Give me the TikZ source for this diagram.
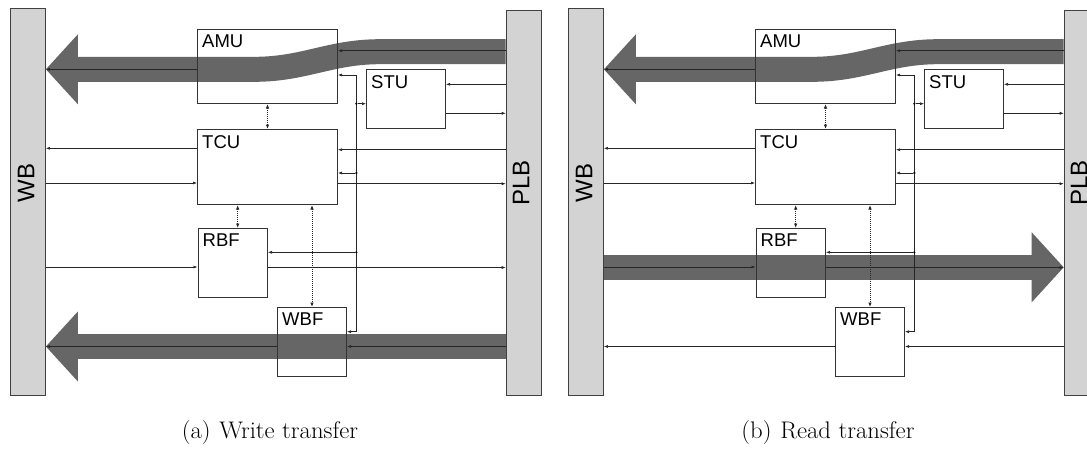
\documentclass[tikz,border=0pt]{standalone}
\usepackage{fontspec}
\newfontfamily\arialfont{Liberation Sans}
\usetikzlibrary{arrows.meta, backgrounds}

\definecolor{busgray}{RGB}{211,211,211}
\definecolor{flowgray}{RGB}{102,102,102}

\begin{document}
\begin{tikzpicture}[x=1pt, y=-1pt,
    bus/.style={draw=black!75, fill=busgray, line width=0.9pt, anchor=north west, inner sep=0pt},
    buslabel/.style={rotate=90, inner sep=0pt, font=\arialfont\fontsize{24}{26}\selectfont},
    blk/.style={draw=black!80, line width=1pt, anchor=north west, inner sep=0pt},
    blklabel/.style={anchor=north west, inner sep=0pt, font=\arialfont\fontsize{18.5}{20}\selectfont},
    sig/.style={draw=black!85, line width=0.6pt, -{Latex[length=4pt,width=3pt]}},
    ctl/.style={draw=black!85, line width=1pt, densely dotted, {Latex[length=4.5pt,width=3.5pt]}-{Latex[length=4.5pt,width=3.5pt]}},
    tap/.style={circle, fill=black, inner sep=0pt, minimum size=2.4pt},
    flow/.style={draw=flowgray, line width=25pt, -{Triangle[length=32pt,width=70pt,line width=0pt]}},
    caption/.style={inner sep=0pt, xscale=1.03, transform shape, font=\fontsize{24}{28}\selectfont},
  ]
  \useasboundingbox (0,0) rectangle (1087,453);
  \clip (0,0) rectangle (1087,453);

  % two panels, same blocks, shifted
  \foreach \p/\dx/\cap in {a/0/{(a)\hspace{0.35em}Write transfer}, b/558/{(b)\hspace{0.35em}Read transfer}} {
    \begin{scope}[xshift=\dx pt]
      % buses
      \node[bus, minimum width=35pt, minimum height=387pt] (wb-\p) at (10,8) {};
      \node[bus, minimum width=35pt, minimum height=385pt] (plb-\p) at (505.7,10) {};
      \node[buslabel] (wb-\p-t) at (26,183) {WB};
      \node[buslabel] (plb-\p-t) at (521,183) {PLB};

      % blocks
      \node[blk, minimum width=140pt, minimum height=74pt] (amu-\p) at (197,29) {};
      \node[blk, minimum width=79pt, minimum height=59pt] (stu-\p) at (366,69) {};
      \node[blk, minimum width=140pt, minimum height=75pt] (tcu-\p) at (197,129) {};
      \node[blk, minimum width=69.5pt, minimum height=69pt] (rbf-\p) at (197.5,228) {};
      \node[blk, minimum width=69pt, minimum height=69pt] (wbf-\p) at (277,307) {};
      \foreach \b/\t in {amu/AMU, stu/STU, tcu/TCU, rbf/RBF, wbf/WBF}
        \node[blklabel] (\b-\p-t) at ([xshift=5pt,yshift=-6pt]\b-\p.north west) {\t};

      % data and handshake lines
      \draw[sig] (plb-\p.west |- 0,50.7) -- (amu-\p.east |- 0,50.7);
      \draw[sig] (amu-\p.west |- 0,69.3) -- (wb-\p.east |- 0,69.3);
      \draw[sig] (plb-\p.west |- 0,84.3) -- (stu-\p.east |- 0,84.3);
      \draw[sig] (stu-\p.east |- 0,113.3) -- (plb-\p.west |- 0,113.3);
      \draw[sig] (tcu-\p.west |- 0,148.3) -- (wb-\p.east |- 0,148.3);
      \draw[sig] (wb-\p.east |- 0,183) -- (tcu-\p.west |- 0,183);
      \draw[sig] (plb-\p.west |- 0,149.7) -- (tcu-\p.east |- 0,149.7);
      \draw[sig] (tcu-\p.east |- 0,183.7) -- (plb-\p.west |- 0,183.7);
      \draw[sig] (wb-\p.east |- 0,267) -- (rbf-\p.west |- 0,267);
      \draw[sig] (rbf-\p.east |- 0,267.5) -- (plb-\p.west |- 0,267.5);
      \draw[sig] (plb-\p.west |- 0,346.5) -- (wbf-\p.east |- 0,346.5);
      \draw[sig] (wbf-\p.west |- 0,346.5) -- (wb-\p.east |- 0,346.5);

      % shared control line with taps
      \coordinate (bus-top-\p) at (356.3,75);
      \coordinate (bus-bot-\p) at (356.3,331.7);
      \draw[sig, {Latex[length=4pt,width=3pt]}-{Latex[length=4pt,width=3pt]}]
        (amu-\p.east |- bus-top-\p) -- (bus-top-\p) -- (bus-bot-\p) -- (wbf-\p.east |- bus-bot-\p);
      \foreach \y/\b/\a in {103.7/stu/west, 173/tcu/east, 252.3/rbf/east} {
        \node[tap] (tap-\b-\p) at (bus-top-\p |- 0,\y) {};
        \draw[sig] (tap-\b-\p) -- (\b-\p.\a |- tap-\b-\p);
      }

      % control links to the TCU
      \draw[ctl] (amu-\p.south) -- (tcu-\p.north);
      \draw[ctl] (tcu-\p.south -| 237.7,0) -- (rbf-\p.north -| 237.7,0);
      \draw[ctl] (tcu-\p.south -| wbf-\p.north) -- (wbf-\p.north);

      \node[caption] (cap-\p) at (270,433) {\cap};
    \end{scope}
  }

  % transfer paths
  \begin{scope}[on background layer]
    \draw[flow] (plb-a.west |- 0,51.7) -- ++(-126,0) to[out=180,in=0] ++(-125,17.6) -- (wb-a.east |- 0,69.3);
    \draw[flow] (plb-a.west |- 0,346.5) -- (wb-a.east |- 0,346.5);
    \draw[flow] (plb-b.west |- 0,51.7) -- ++(-126,0) to[out=180,in=0] ++(-125,17.6) -- (wb-b.east |- 0,69.3);
    \draw[flow] (wb-b.east |- 0,267.3) -- (plb-b.west |- 0,267.3);
  \end{scope}
\end{tikzpicture}
\end{document}
